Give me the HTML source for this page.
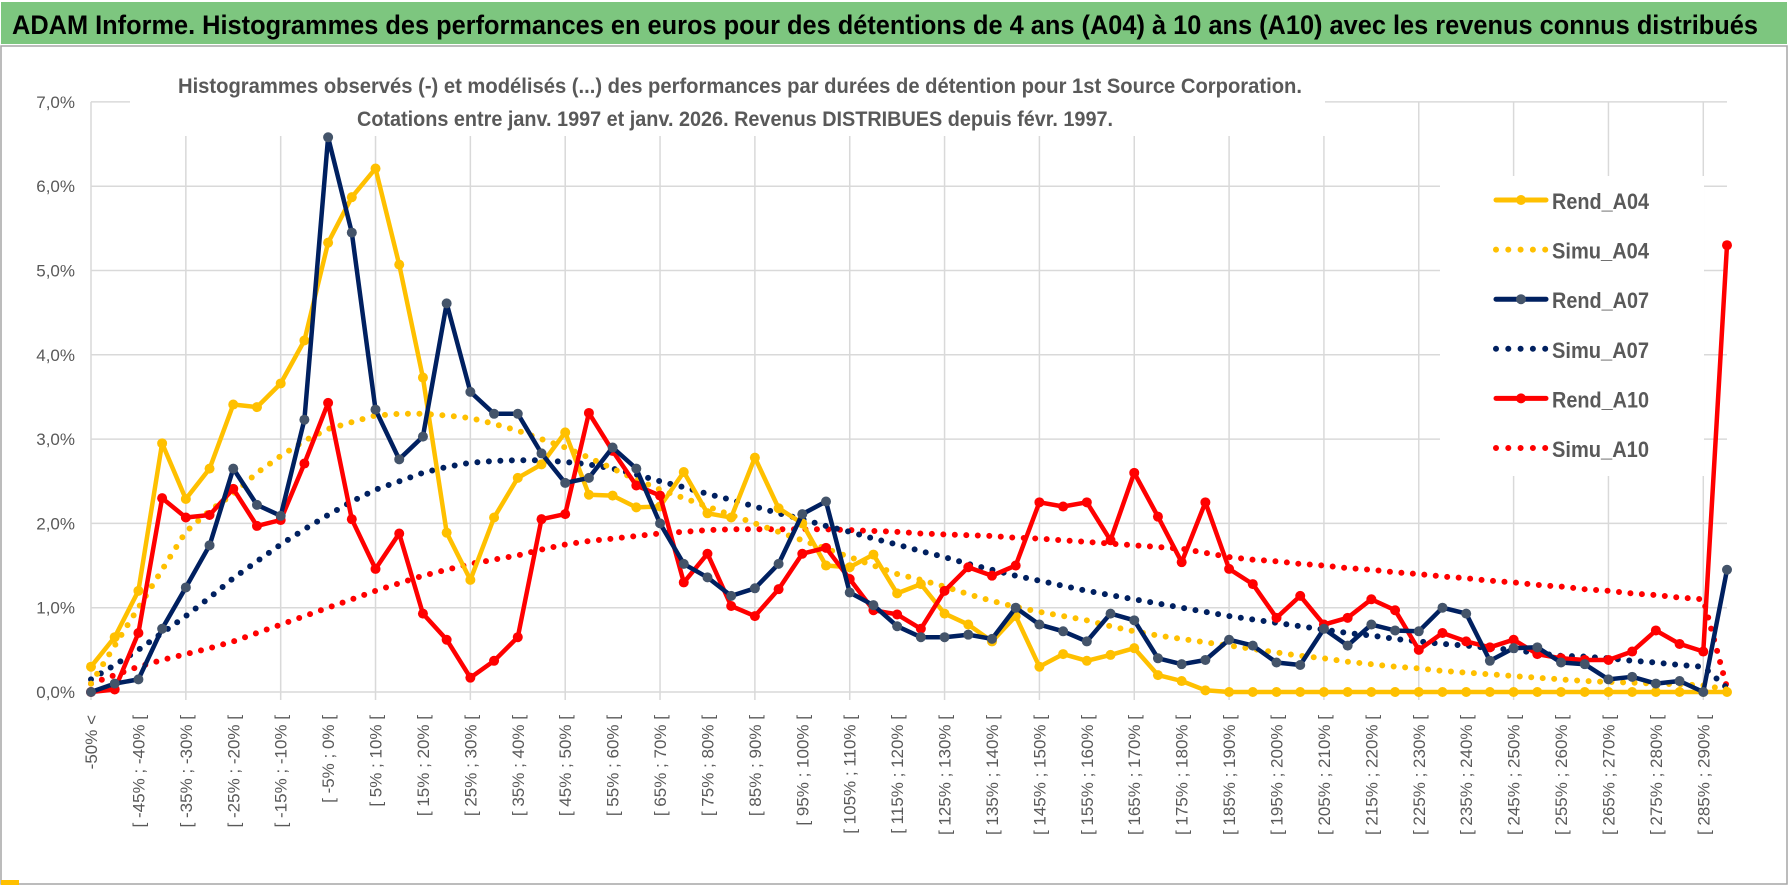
<!DOCTYPE html>
<html><head><meta charset="utf-8"><style>
html,body{margin:0;padding:0;background:#fff;}
svg{display:block;font-family:"Liberation Sans",sans-serif;}
</style></head><body>
<svg id="chart" width="1790" height="888" viewBox="0 0 1790 888">
<rect x="0" y="0" width="1790" height="888" fill="#fff"/>
<rect x="1" y="2" width="1786" height="42" fill="#7dc67f"/>
<text x="12" y="34" font-size="27" font-weight="bold" fill="#000" textLength="1746" lengthAdjust="spacingAndGlyphs">ADAM Informe. Histogrammes des performances en euros pour des détentions de 4 ans (A04) à 10 ans (A10) avec les revenus connus distribués</text>
<rect x="1" y="46" width="1786" height="838" fill="none" stroke="#a6a6a6" stroke-width="1.5"/>
<rect x="1" y="880" width="18" height="5" fill="#ffc000"/>
<g id="grid"></g>
<g id="yaxis"></g>
<g id="xaxis"></g>
<rect x="130" y="62" width="1195" height="74" fill="#fff"/>
<text x="740" y="93" font-size="21" font-weight="bold" fill="#595959" text-anchor="middle" textLength="1124" lengthAdjust="spacingAndGlyphs">Histogrammes observés (-) et modélisés (...) des performances par durées de détention pour 1st Source Corporation.</text>
<text x="735" y="126" font-size="21" font-weight="bold" fill="#595959" text-anchor="middle" textLength="756" lengthAdjust="spacingAndGlyphs">Cotations entre janv. 1997 et janv. 2026. Revenus DISTRIBUES depuis févr. 1997.</text>
<rect x="1440" y="176" width="264" height="300" fill="#fff"/>
<g id="series"></g>
<g id="legend"></g>
</svg>
<script>
const categoryCount = 70;
const yTicks = [0,1,2,3,4,5,6,7];
const yTickLabels = ["0,0%","1,0%","2,0%","3,0%","4,0%","5,0%","6,0%","7,0%"];
const binLowerBounds = [null,-50,-45,-40,-35,-30,-25,-20,-15,-10,-5,0,5,10,15,20,25,30,35,40,45,50,55,60,65,70,75,80,85,90,95,100,105,110,115,120,125,130,135,140,145,150,155,160,165,170,175,180,185,190,195,200,205,210,215,220,225,230,235,240,245,250,255,260,265,270,275,280,285,290];
const rendA04 = [0.3,0.65,1.2,2.95,2.29,2.65,3.41,3.38,3.66,4.17,5.33,5.87,6.21,5.07,3.73,1.89,1.33,2.07,2.54,2.7,3.08,2.34,2.33,2.19,2.2,2.61,2.12,2.07,2.78,2.18,2.0,1.5,1.48,1.63,1.17,1.28,0.93,0.8,0.6,0.9,0.3,0.45,0.37,0.44,0.52,0.2,0.13,0.02,0,0,0,0,0,0,0,0,0,0,0,0,0,0,0,0,0,0,0,0,0,0];
const simuA04 = [0.1,0.55,1.0,1.45,1.9,2.15,2.35,2.6,2.8,2.98,3.12,3.2,3.28,3.3,3.3,3.28,3.25,3.18,3.1,3.0,2.9,2.78,2.65,2.52,2.4,2.3,2.2,2.1,2.0,1.9,1.8,1.7,1.6,1.5,1.4,1.33,1.25,1.16,1.08,1.01,0.95,0.9,0.85,0.78,0.72,0.67,0.63,0.59,0.55,0.51,0.47,0.43,0.4,0.36,0.33,0.3,0.28,0.25,0.23,0.21,0.19,0.17,0.15,0.13,0.12,0.11,0.1,0.09,0.08,0.03];
const rendA07 = [0.0,0.1,0.15,0.75,1.24,1.74,2.65,2.22,2.09,3.23,6.58,5.45,3.35,2.76,3.03,4.61,3.56,3.3,3.3,2.83,2.48,2.54,2.9,2.65,2.0,1.52,1.36,1.14,1.23,1.52,2.11,2.26,1.18,1.03,0.78,0.65,0.65,0.68,0.63,1.0,0.8,0.72,0.6,0.93,0.85,0.4,0.33,0.38,0.62,0.55,0.35,0.32,0.75,0.55,0.8,0.73,0.72,1.0,0.93,0.37,0.52,0.53,0.35,0.33,0.15,0.18,0.1,0.13,0.0,1.45];
const simuA07 = [0.15,0.32,0.5,0.7,0.9,1.12,1.35,1.55,1.75,1.93,2.1,2.26,2.4,2.5,2.6,2.67,2.72,2.74,2.75,2.75,2.73,2.7,2.65,2.58,2.5,2.43,2.35,2.28,2.2,2.12,2.05,1.97,1.9,1.82,1.75,1.67,1.6,1.52,1.45,1.38,1.32,1.26,1.2,1.15,1.1,1.05,1.0,0.95,0.9,0.86,0.82,0.78,0.74,0.7,0.67,0.63,0.6,0.57,0.55,0.52,0.5,0.46,0.43,0.42,0.4,0.37,0.35,0.32,0.3,0.05];
const rendA10 = [0.0,0.03,0.7,2.3,2.07,2.1,2.41,1.97,2.04,2.71,3.43,2.05,1.46,1.88,0.93,0.62,0.17,0.37,0.65,2.05,2.11,3.31,2.86,2.45,2.33,1.3,1.64,1.02,0.9,1.22,1.64,1.71,1.34,0.97,0.92,0.75,1.2,1.48,1.38,1.5,2.25,2.2,2.25,1.8,2.6,2.08,1.54,2.25,1.46,1.28,0.88,1.14,0.8,0.88,1.1,0.97,0.5,0.7,0.6,0.53,0.62,0.45,0.4,0.38,0.38,0.48,0.73,0.57,0.48,5.3];
const simuA10 = [0.1,0.2,0.3,0.38,0.45,0.52,0.6,0.7,0.8,0.9,1.0,1.1,1.2,1.29,1.38,1.45,1.52,1.57,1.62,1.69,1.75,1.79,1.82,1.85,1.88,1.9,1.92,1.93,1.93,1.93,1.93,1.93,1.92,1.91,1.9,1.88,1.87,1.86,1.85,1.83,1.82,1.8,1.78,1.76,1.74,1.72,1.7,1.65,1.6,1.57,1.55,1.52,1.5,1.47,1.45,1.42,1.4,1.37,1.35,1.32,1.3,1.27,1.25,1.22,1.2,1.17,1.15,1.12,1.1,0.05];

const NS = "http://www.w3.org/2000/svg";
const X0 = 91, X1 = 1727, Y0 = 692, PER = 84.3;
function xPos(i){ return X0 + i*(X1-X0)/(categoryCount-1); }
function yPos(v){ return Y0 - v*PER; }
function mk(tag, attrs, parent){ const e=document.createElementNS(NS,tag); for(const k in attrs) e.setAttribute(k,attrs[k]); parent.appendChild(e); return e; }

const grid = document.getElementById('grid');
yTicks.forEach(function(t){
  const l = mk('line',{x1:X0,x2:X1,y1:yPos(t),y2:yPos(t),stroke:'#d9d9d9','stroke-width':1.5},grid);
  
  
});
for(let i=0;i<categoryCount;i+=4){
  const l = mk('line',{x1:xPos(i),x2:xPos(i),y1:yPos(7),y2:Y0+8,stroke:'#d9d9d9','stroke-width':1.5},grid);
  
  
}
const yaxis = document.getElementById('yaxis');
yTicks.forEach(function(t,k){
  const tx = mk('text',{x:75,y:yPos(t)+6,'font-size':17,fill:'#595959','text-anchor':'end'},yaxis);
  tx.textContent = yTickLabels[k];
  
  
});
const xaxis = document.getElementById('xaxis');
for(let i=0;i<categoryCount;i+=2){
  const lo = binLowerBounds[i];
  const label = (lo===null) ? '-50% <' : '[ '+lo+'% ; '+(lo+5)+'% [';
  const x = xPos(i)+6, y = 715;
  const tx = mk('text',{x:x,y:y,'font-size':17,fill:'#595959','text-anchor':'end',transform:'rotate(-90 '+x+' '+y+')'},xaxis);
  tx.textContent = label;
  
  
}

const series = document.getElementById('series');
function pts(arr){ return arr.map(function(v,i){ return xPos(i).toFixed(1)+','+yPos(v).toFixed(1); }).join(' '); }
function dotted(arr,color,name){
  const p = mk('polyline',{points:pts(arr),fill:'none',stroke:color,'stroke-width':6,'stroke-linecap':'round','stroke-dasharray':'0 11.5'},series);
  
  
}
function solid(arr,color,mcolor,name){
  const g = mk('g',{},series);
  
  
  mk('polyline',{points:pts(arr),fill:'none',stroke:color,'stroke-width':4.5,'stroke-linejoin':'round'},g);
  arr.forEach(function(v,i){
    const c = mk('circle',{cx:xPos(i),cy:yPos(v),r:5,fill:mcolor},g);
    
    
  });
}
dotted(simuA10,'#ff0000','simu-a10-line');
dotted(simuA07,'#002060','simu-a07-line');
dotted(simuA04,'#ffc000','simu-a04-line');
solid(rendA04,'#ffc000','#ffc000','rend-a04-line');
solid(rendA10,'#ff0000','#ff0000','rend-a10-line');
solid(rendA07,'#002060','#44546a','rend-a07-line');

const legendItems = [["Rend_A04","#ffc000","#ffc000",false],["Simu_A04","#ffc000","#ffc000",true],["Rend_A07","#002060","#44546a",false],["Simu_A07","#002060","#002060",true],["Rend_A10","#ff0000","#ff0000",false],["Simu_A10","#ff0000","#ff0000",true]];
const legend = document.getElementById('legend');
legendItems.forEach(function(it,k){
  const y = 200 + k*49.6;
  const g = mk('g',{},legend);
  
  
  if(it[3]){
    mk('line',{x1:1496,x2:1546,y1:y,y2:y,stroke:it[1],'stroke-width':6,'stroke-linecap':'round','stroke-dasharray':'0 12.3'},g);
  } else {
    mk('line',{x1:1496,x2:1546,y1:y,y2:y,stroke:it[1],'stroke-width':5,'stroke-linecap':'round'},g);
    mk('circle',{cx:1521,cy:y,r:5,fill:it[2]},g);
  }
  const tx = mk('text',{x:1552,y:y+9,'font-size':22,'font-weight':'bold',fill:'#595959',textLength:97,lengthAdjust:'spacingAndGlyphs'},g);
  tx.textContent = it[0];
});
</script>
</body></html>
